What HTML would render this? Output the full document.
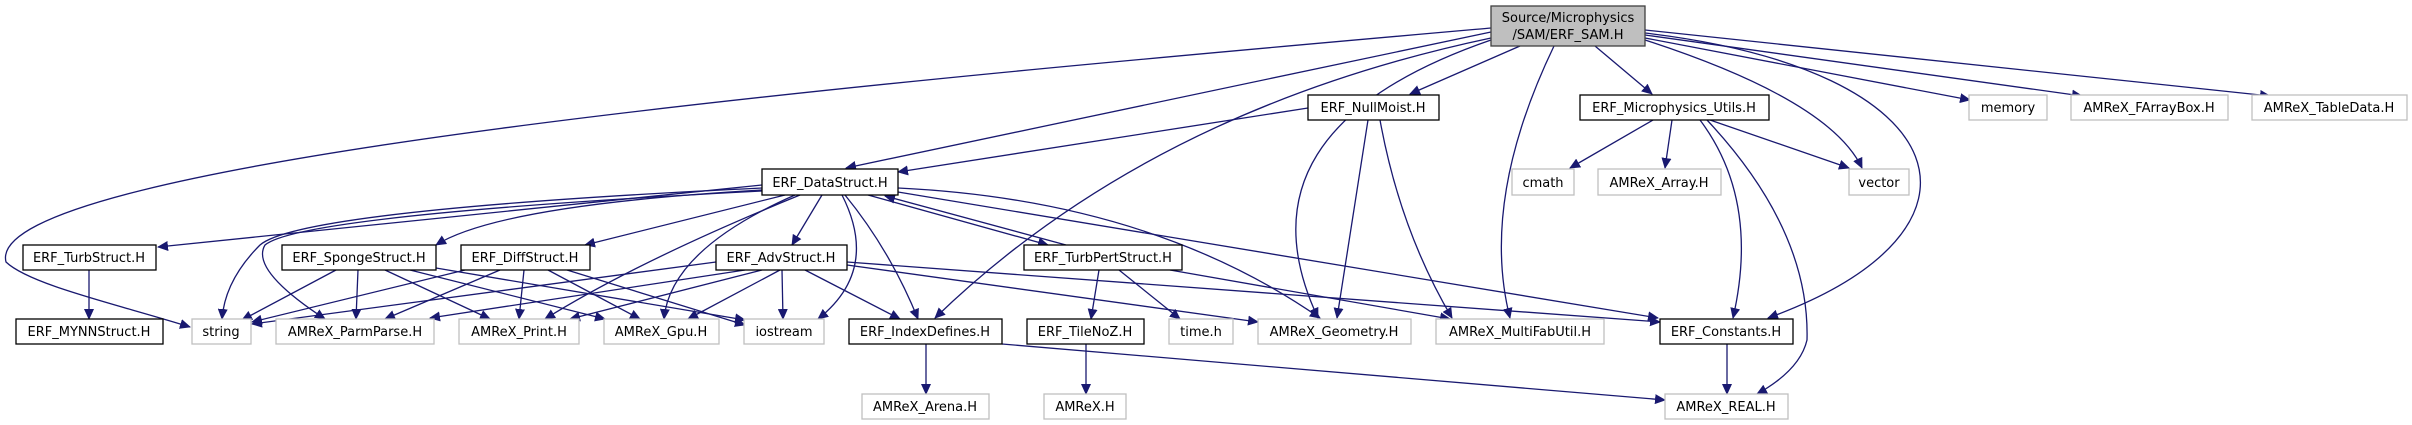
<!DOCTYPE html>
<html><head><meta charset="utf-8"><style>
html,body{margin:0;padding:0;background:#fff;}
svg{display:block;}
text{font-family:"DejaVu Sans","Liberation Sans",sans-serif;font-size:13px;fill:#000;}
.e{fill:none;stroke:#191970;stroke-width:1.3;marker-end:url(#a);}
.n{fill:#fff;stroke:#000;stroke-width:1.3;}
.g{fill:#fff;stroke:#bfbfbf;stroke-width:1.3;}
</style></head><body>
<svg width="2412" height="425" viewBox="0 0 2412 425" xmlns="http://www.w3.org/2000/svg">
<defs><marker id="a" markerWidth="11" markerHeight="10" refX="10" refY="5" orient="auto" markerUnits="userSpaceOnUse"><path d="M0,0 L11,5 L0,10 z" fill="#191970"/></marker></defs>
<path class="e" d="M1491,28 C900,80 -20,160 6,262 C30,285 120,305 190,327"/>
<path class="e" d="M1491,32 L846,168"/>
<path class="e" d="M1491,38 Q1150,110 935,318"/>
<path class="e" d="M1491,40 Q1230,130 1318,318"/>
<path class="e" d="M1520,46 L1410,94"/>
<path class="e" d="M1595,46 L1652,94"/>
<path class="e" d="M1554,46 Q1480,200 1510,318"/>
<path class="e" d="M1645,40 Q1830,100 1862,168"/>
<path class="e" d="M1645,33 C1960,70 2010,230 1768,318"/>
<path class="e" d="M1645,38 L1970,100"/>
<path class="e" d="M1645,35 L2082,96"/>
<path class="e" d="M1645,30 L2270,96"/>
<path class="e" d="M1308,108 L898,172"/>
<path class="e" d="M1368,120 L1337,318"/>
<path class="e" d="M1380,120 Q1400,230 1452,318"/>
<path class="e" d="M1653,120 L1570,168"/>
<path class="e" d="M1672,120 L1665,168"/>
<path class="e" d="M1710,120 L1849,168"/>
<path class="e" d="M1700,120 Q1760,200 1733,318"/>
<path class="e" d="M1707,120 Q1810,230 1807,340 Q1800,370 1757,394"/>
<path class="e" d="M762,185 L158,247"/>
<path class="e" d="M762,190 Q500,205 436,245"/>
<path class="e" d="M785,195 L585,245"/>
<path class="e" d="M822,195 L792,245"/>
<path class="e" d="M762,188 Q300,210 260,245 Q225,280 222,319"/>
<path class="e" d="M762,191 Q300,215 265,245 Q250,270 325,319"/>
<path class="e" d="M800,195 Q640,260 545,319"/>
<path class="e" d="M795,195 Q670,250 664,319"/>
<path class="e" d="M842,195 Q880,270 818,319"/>
<path class="e" d="M845,195 Q890,250 918,319"/>
<path class="e" d="M868,195 L1048,245"/>
<path class="e" d="M1066,245 L885,196"/>
<path class="e" d="M898,188 Q1150,200 1320,318"/>
<path class="e" d="M898,192 L1658,318"/>
<path class="e" d="M89,270 L89,319"/>
<path class="e" d="M336,270 L242,320"/>
<path class="e" d="M358,270 L356,319"/>
<path class="e" d="M385,270 L490,319"/>
<path class="e" d="M410,270 L605,319"/>
<path class="e" d="M436,268 L745,320"/>
<path class="e" d="M465,270 L252,322"/>
<path class="e" d="M500,270 L385,319"/>
<path class="e" d="M524,270 L519,319"/>
<path class="e" d="M548,270 L640,319"/>
<path class="e" d="M567,270 L745,325"/>
<path class="e" d="M716,262 L252,324"/>
<path class="e" d="M745,270 L430,318"/>
<path class="e" d="M762,270 L570,319"/>
<path class="e" d="M780,270 L688,319"/>
<path class="e" d="M782,270 L783,319"/>
<path class="e" d="M805,270 L900,319"/>
<path class="e" d="M847,265 L1258,322"/>
<path class="e" d="M847,262 L1660,322"/>
<path class="e" d="M1099,270 L1091,319"/>
<path class="e" d="M1119,270 L1180,319"/>
<path class="e" d="M1170,270 L1450,319"/>
<path class="e" d="M926,344 L926,394"/>
<path class="e" d="M1002,344 L1665,400"/>
<path class="e" d="M1086,344 L1086,394"/>
<path class="e" d="M1727,344 L1727,394"/>
<rect x="1491" y="6" width="154" height="40" fill="#bfbfbf" stroke="#404040" stroke-width="1.3"/>
<text x="1568" y="22" text-anchor="middle">Source/Microphysics</text>
<text x="1568" y="39" text-anchor="middle">/SAM/ERF_SAM.H</text>
<g>
<rect class="n" x="1308" y="95" width="131" height="25"/><text x="1373" y="112" text-anchor="middle">ERF_NullMoist.H</text>
<rect class="n" x="1580" y="95" width="189" height="25"/><text x="1674" y="112" text-anchor="middle">ERF_Microphysics_Utils.H</text>
<rect class="g" x="1969" y="95" width="78" height="25"/><text x="2008" y="112" text-anchor="middle">memory</text>
<rect class="g" x="2071" y="95" width="157" height="25"/><text x="2149" y="112" text-anchor="middle">AMReX_FArrayBox.H</text>
<rect class="g" x="2252" y="95" width="155" height="25"/><text x="2329" y="112" text-anchor="middle">AMReX_TableData.H</text>
<rect class="n" x="762" y="169" width="136" height="26"/><text x="830" y="187" text-anchor="middle">ERF_DataStruct.H</text>
<rect class="g" x="1512" y="169" width="62" height="26"/><text x="1543" y="187" text-anchor="middle">cmath</text>
<rect class="g" x="1598" y="169" width="123" height="26"/><text x="1659" y="187" text-anchor="middle">AMReX_Array.H</text>
<rect class="g" x="1849" y="169" width="60" height="26"/><text x="1879" y="187" text-anchor="middle">vector</text>
<rect class="n" x="23" y="245" width="133" height="25"/><text x="89" y="262" text-anchor="middle">ERF_TurbStruct.H</text>
<rect class="n" x="282" y="245" width="154" height="25"/><text x="359" y="262" text-anchor="middle">ERF_SpongeStruct.H</text>
<rect class="n" x="461" y="245" width="129" height="25"/><text x="525" y="262" text-anchor="middle">ERF_DiffStruct.H</text>
<rect class="n" x="716" y="245" width="131" height="25"/><text x="781" y="262" text-anchor="middle">ERF_AdvStruct.H</text>
<rect class="n" x="1024" y="245" width="158" height="25"/><text x="1103" y="262" text-anchor="middle">ERF_TurbPertStruct.H</text>
<rect class="n" x="16" y="319" width="147" height="25"/><text x="89" y="336" text-anchor="middle">ERF_MYNNStruct.H</text>
<rect class="g" x="192" y="319" width="59" height="25"/><text x="221" y="336" text-anchor="middle">string</text>
<rect class="g" x="276" y="319" width="158" height="25"/><text x="355" y="336" text-anchor="middle">AMReX_ParmParse.H</text>
<rect class="g" x="459" y="319" width="120" height="25"/><text x="519" y="336" text-anchor="middle">AMReX_Print.H</text>
<rect class="g" x="604" y="319" width="115" height="25"/><text x="661" y="336" text-anchor="middle">AMReX_Gpu.H</text>
<rect class="g" x="744" y="319" width="80" height="25"/><text x="784" y="336" text-anchor="middle">iostream</text>
<rect class="n" x="849" y="319" width="153" height="25"/><text x="925" y="336" text-anchor="middle">ERF_IndexDefines.H</text>
<rect class="n" x="1027" y="319" width="117" height="25"/><text x="1085" y="336" text-anchor="middle">ERF_TileNoZ.H</text>
<rect class="g" x="1169" y="319" width="64" height="25"/><text x="1201" y="336" text-anchor="middle">time.h</text>
<rect class="g" x="1258" y="319" width="153" height="25"/><text x="1334" y="336" text-anchor="middle">AMReX_Geometry.H</text>
<rect class="g" x="1436" y="319" width="168" height="25"/><text x="1520" y="336" text-anchor="middle">AMReX_MultiFabUtil.H</text>
<rect class="n" x="1660" y="319" width="133" height="25"/><text x="1726" y="336" text-anchor="middle">ERF_Constants.H</text>
<rect class="g" x="862" y="394" width="127" height="25"/><text x="925" y="411" text-anchor="middle">AMReX_Arena.H</text>
<rect class="g" x="1044" y="394" width="82" height="25"/><text x="1085" y="411" text-anchor="middle">AMReX.H</text>
<rect class="g" x="1665" y="394" width="123" height="25"/><text x="1726" y="411" text-anchor="middle">AMReX_REAL.H</text>
</g>
</svg>
</body></html>
